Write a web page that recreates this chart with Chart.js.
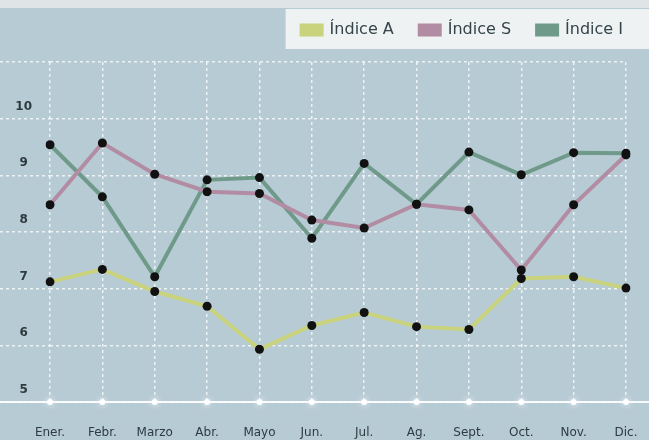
<!DOCTYPE html>
<html>
<head>
<meta charset="utf-8">
<script src="https://cdn.jsdelivr.net/npm/chart.js@4/dist/chart.umd.min.js"></script>
<style>
  html, body { margin: 0; padding: 0; background: #b7cbd5; }
  #wrap { width: 649px; height: 440px; position: relative; }
</style>
</head>
<body>
<div id="wrap"><canvas id="chart"></canvas></div>
<script>
const MONTHS = ['Ener.', 'Febr.', 'Marzo', 'Abr.', 'Mayo', 'Jun.', 'Jul.', 'Ag.', 'Sept.', 'Oct.', 'Nov.', 'Dic.'];
const INDICE_A = [7.12, 7.34, 6.95, 6.69, 5.93, 6.35, 6.58, 6.33, 6.28, 7.18, 7.21, 7.01];
const INDICE_S = [8.48, 9.57, 9.02, 8.71, 8.68, 8.21, 8.07, 8.49, 8.39, 7.33, 8.48, 9.36];
const INDICE_I = [9.54, 8.62, 7.21, 8.92, 8.96, 7.89, 9.21, 8.49, 9.41, 9.01, 9.40, 9.39];
const Y_TICKS = [5, 6, 7, 8, 9, 10];

const FONT = "'DejaVu Sans', 'Liberation Sans', sans-serif";
const BG = '#b7cbd5';
const GRID = 'rgba(255,255,255,0.75)';

// background, top strip, legend panel, bottom axis line
const backdrop = {
  id: 'backdrop',
  beforeDraw(chart) {
    const { ctx, width } = chart;
    ctx.save();
    ctx.fillStyle = BG;
    ctx.fillRect(0, 0, width, chart.height);
    ctx.fillStyle = '#dfe5e6';
    ctx.fillRect(0, 0, width, 8);
    const first = chart.legend.legendHitBoxes[0];
    if (first) {
      ctx.fillStyle = '#eef2f2';
      ctx.fillRect(first.left - 16, 9, width - first.left + 16, 40);
    }
    ctx.restore();
  },
  beforeDatasetsDraw(chart) {
    const { ctx, width, scales } = chart;
    const yAxis = scales.y.getPixelForValue(5);
    ctx.save();
    ctx.strokeStyle = 'rgba(255,255,255,0.9)';
    ctx.lineWidth = 2;
    ctx.beginPath();
    ctx.moveTo(0, yAxis);
    ctx.lineTo(width, yAxis);
    ctx.stroke();
    // glowing dots where the month lines meet the axis
    ctx.fillStyle = '#ffffff';
    ctx.shadowColor = 'rgba(255,255,255,0.9)';
    ctx.shadowBlur = 6;
    MONTHS.forEach((m, i) => {
      ctx.beginPath();
      ctx.arc(scales.x.getPixelForValue(i), yAxis, 3, 0, Math.PI * 2);
      ctx.fill();
    });
    ctx.restore();
  }
};

const legendSpace = {
  id: 'legendSpace',
  beforeInit(chart) {
    const fit = chart.legend.fit;
    chart.legend.fit = function () {
      fit.call(this);
      this.height = 66;
    };
  }
};

function series(label, data, color) {
  return {
    label,
    data,
    borderColor: color,
    backgroundColor: color,
    borderWidth: 4,
    tension: 0,
    pointRadius: 4.5,
    pointBackgroundColor: '#111',
    pointBorderWidth: 0,
    fill: false
  };
}

new Chart(document.getElementById('chart'), {
  type: 'line',
  data: {
    labels: MONTHS,
    datasets: [
      series('Índice A', INDICE_A, '#c9d27c'),
      series('Índice S', INDICE_S, '#b28ca2'),
      series('Índice I', INDICE_I, '#6f9a8a')
    ]
  },
  options: {
    responsive: true,
    maintainAspectRatio: false,
    animation: false,
    layout: { padding: { top: -4, right: 0, left: 0, bottom: 0 } },
    plugins: {
      legend: {
        position: 'top',
        align: 'end',
        labels: {
          boxWidth: 20,
          boxHeight: 9,
          padding: 26,
          color: '#34444a',
          font: { family: FONT, size: 16 }
        }
      },
      tooltip: { enabled: false }
    },
    scales: {
      x: {
        offset: false,
        grid: {
          color: GRID,
          lineWidth: 1.5,
          drawTicks: false
        },
        border: { display: false, dash: [3, 3] },
        ticks: {
          padding: 24,
          color: '#2e3b40',
          font: { family: FONT, size: 12 },
          maxRotation: 0,
          autoSkip: false
        },
        afterFit(scale) {
          scale.height = 38;
          scale.paddingRight = 23;
        }
      },
      y: {
        min: 5,
        max: 11,
        afterBuildTicks(scale) {
          scale.ticks = Y_TICKS.concat([11]).map(v => ({ value: v }));
        },
        grid: {
          color: GRID,
          lineWidth: 1.5,
          tickLength: 50,
          tickColor: GRID,
          tickBorderDash: [3, 3]
        },
        border: { display: false, dash: [3, 3] },
        ticks: {
          padding: -32,
          crossAlign: 'center',
          labelOffset: -12,
          color: '#2e3b40',
          font: { family: FONT, size: 12, weight: 'bold' },
          callback: v => (Y_TICKS.includes(v) ? v : '')
        },
        afterFit(scale) { scale.width = 50; }
      }
    }
  },
  plugins: [backdrop, legendSpace]
});
</script>
</body>
</html>
